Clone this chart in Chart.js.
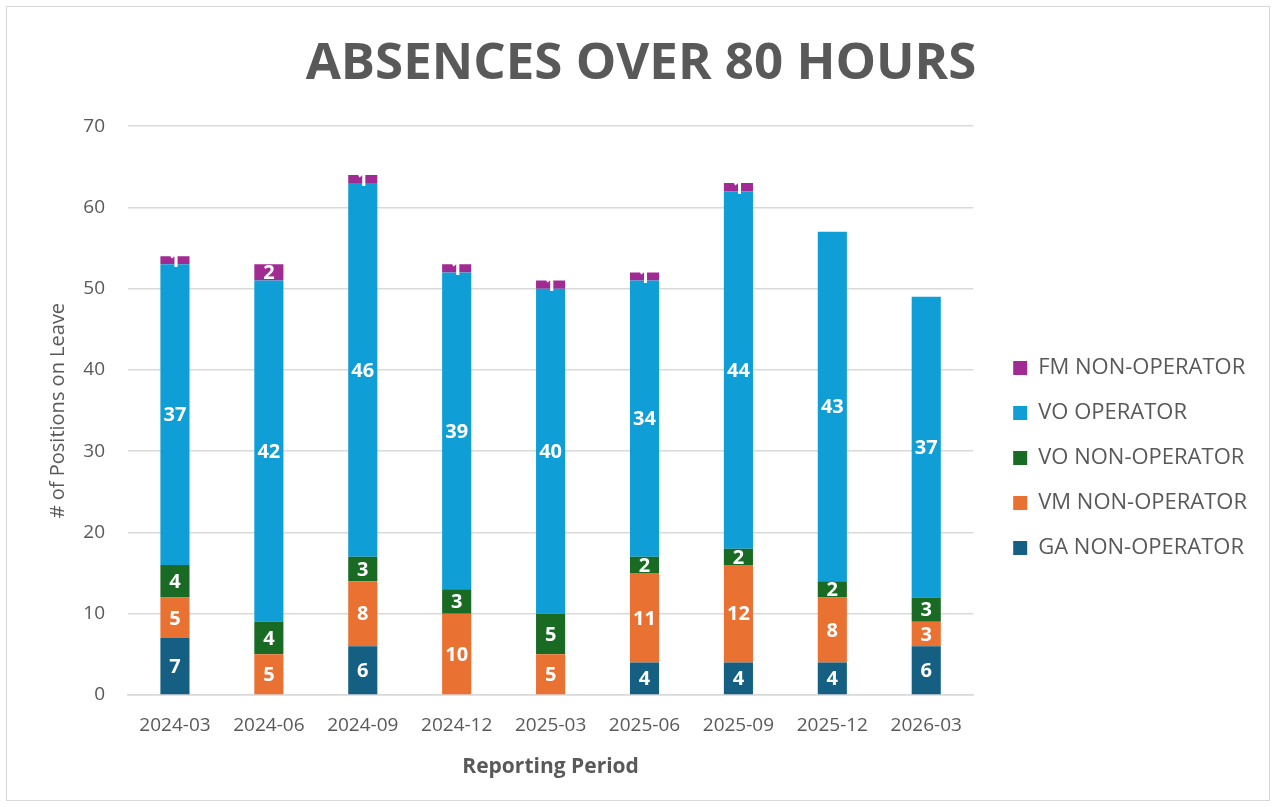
<!DOCTYPE html>
<html>
<head>
<meta charset="utf-8">
<script src="https://cdn.jsdelivr.net/npm/chart.js@4.4.1/dist/chart.umd.min.js"></script>
<style>
  body { margin: 0; background: #fff; }
  #wrap { position: absolute; left: 0; top: 0; width: 1276px; height: 807px; }
</style>
</head>
<body>
<div id="wrap"><canvas id="chart"></canvas></div>
<script>
const periods = ['2024-03', '2024-06', '2024-09', '2024-12', '2025-03', '2025-06', '2025-09', '2025-12', '2026-03'];
const gaNonOperator = [7, 0, 6, 0, 0, 4, 4, 4, 6];
const vmNonOperator = [5, 5, 8, 10, 5, 11, 12, 8, 3];
const voNonOperator = [4, 4, 3, 3, 5, 2, 2, 2, 3];
const voOperator = [37, 42, 46, 39, 40, 34, 44, 43, 37];
const fmNonOperator = [1, 2, 1, 1, 1, 1, 1, 0, 0];
const yTicks = [0, 10, 20, 30, 40, 50, 60, 70];

const fontFamily = '"Open Sans", sans-serif';
const textGray = '#595959';

// white value labels in the middle of each segment
const segmentLabels = {
    id: 'segmentLabels',
    afterDatasetsDraw(chart) {
        const ctx = chart.ctx;
        ctx.save();
        ctx.fillStyle = '#ffffff';
        ctx.font = 'bold 20px ' + fontFamily;
        ctx.textAlign = 'center';
        ctx.textBaseline = 'middle';
        chart.data.datasets.forEach((ds, i) => {
            const meta = chart.getDatasetMeta(i);
            meta.data.forEach((bar, j) => {
                const v = ds.data[j];
                if (!v) return;
                ctx.fillText(String(v), bar.x, (bar.y + bar.base) / 2 + 1);
            });
        });
        ctx.restore();
    }
};

// outer frame + nudge the legend away from the plot like the original
const frame = {
    id: 'frame',
    afterLayout(chart) {
        const lg = chart.legend;
        if (!lg) return;
        lg.left += 17; lg.right += 17;
        lg.top += 66; lg.bottom += 66;
    },
    beforeDraw(chart) {
        const ctx = chart.ctx;
        ctx.save();
        ctx.strokeStyle = '#d9d9d9';
        ctx.lineWidth = 1;
        ctx.strokeRect(6.5, 6.5, 1263, 794);
        ctx.restore();
    }
};

function ds(label, data, color) {
    return { label, data, backgroundColor: color, barPercentage: 0.31, categoryPercentage: 1.0 };
}

new Chart(document.getElementById('chart'), {
    type: 'bar',
    data: {
        labels: periods,
        datasets: [
            ds('GA NON-OPERATOR', gaNonOperator, '#156082'),
            ds('VM NON-OPERATOR', vmNonOperator, '#E97132'),
            ds('VO NON-OPERATOR', voNonOperator, '#196B24'),
            ds('VO OPERATOR', voOperator, '#0F9ED5'),
            ds('FM NON-OPERATOR', fmNonOperator, '#A02B93')
        ]
    },
    options: {
        responsive: true,
        maintainAspectRatio: false,
        animation: false,
        layout: { padding: { left: 42, right: 36, top: 0, bottom: 23 } },
        plugins: {
            title: {
                display: true,
                text: 'ABSENCES OVER 80 HOURS',
                color: textGray,
                font: { family: fontFamily, size: 51, weight: 'bold' },
                padding: { top: 34, bottom: 31 }
            },
            legend: {
                position: 'right',
                reverse: true,
                labels: {
                    color: textGray,
                    font: { family: fontFamily, size: 22 },
                    boxWidth: 14,
                    boxHeight: 14,
                    padding: 23
                }
            },
            tooltip: { enabled: false }
        },
        scales: {
            x: {
                stacked: true,
                grid: { display: false, drawTicks: false },
                border: { color: '#d9d9d9', width: 1.5 },
                ticks: { color: textGray, font: { family: fontFamily, size: 19 }, padding: 19 },
                title: {
                    display: true,
                    text: 'Reporting Period',
                    color: textGray,
                    font: { family: fontFamily, size: 21, weight: 'bold' }
                },
                afterFit: s => { s.height = 89; }
            },
            y: {
                stacked: true,
                min: 0,
                max: 70,
                afterBuildTicks: s => { s.ticks = yTicks.map(v => ({ value: v })); },
                grid: { color: '#d9d9d9', lineWidth: 1.5, drawTicks: false },
                border: { display: false },
                ticks: { color: textGray, font: { family: fontFamily, size: 19 }, padding: 23 },
                title: {
                    display: true,
                    text: '# of Positions on Leave',
                    color: textGray,
                    font: { family: fontFamily, size: 20 }
                },
                afterFit: s => { s.width = 86; }
            }
        }
    },
    plugins: [segmentLabels, frame]
});
</script>
</body>
</html>
